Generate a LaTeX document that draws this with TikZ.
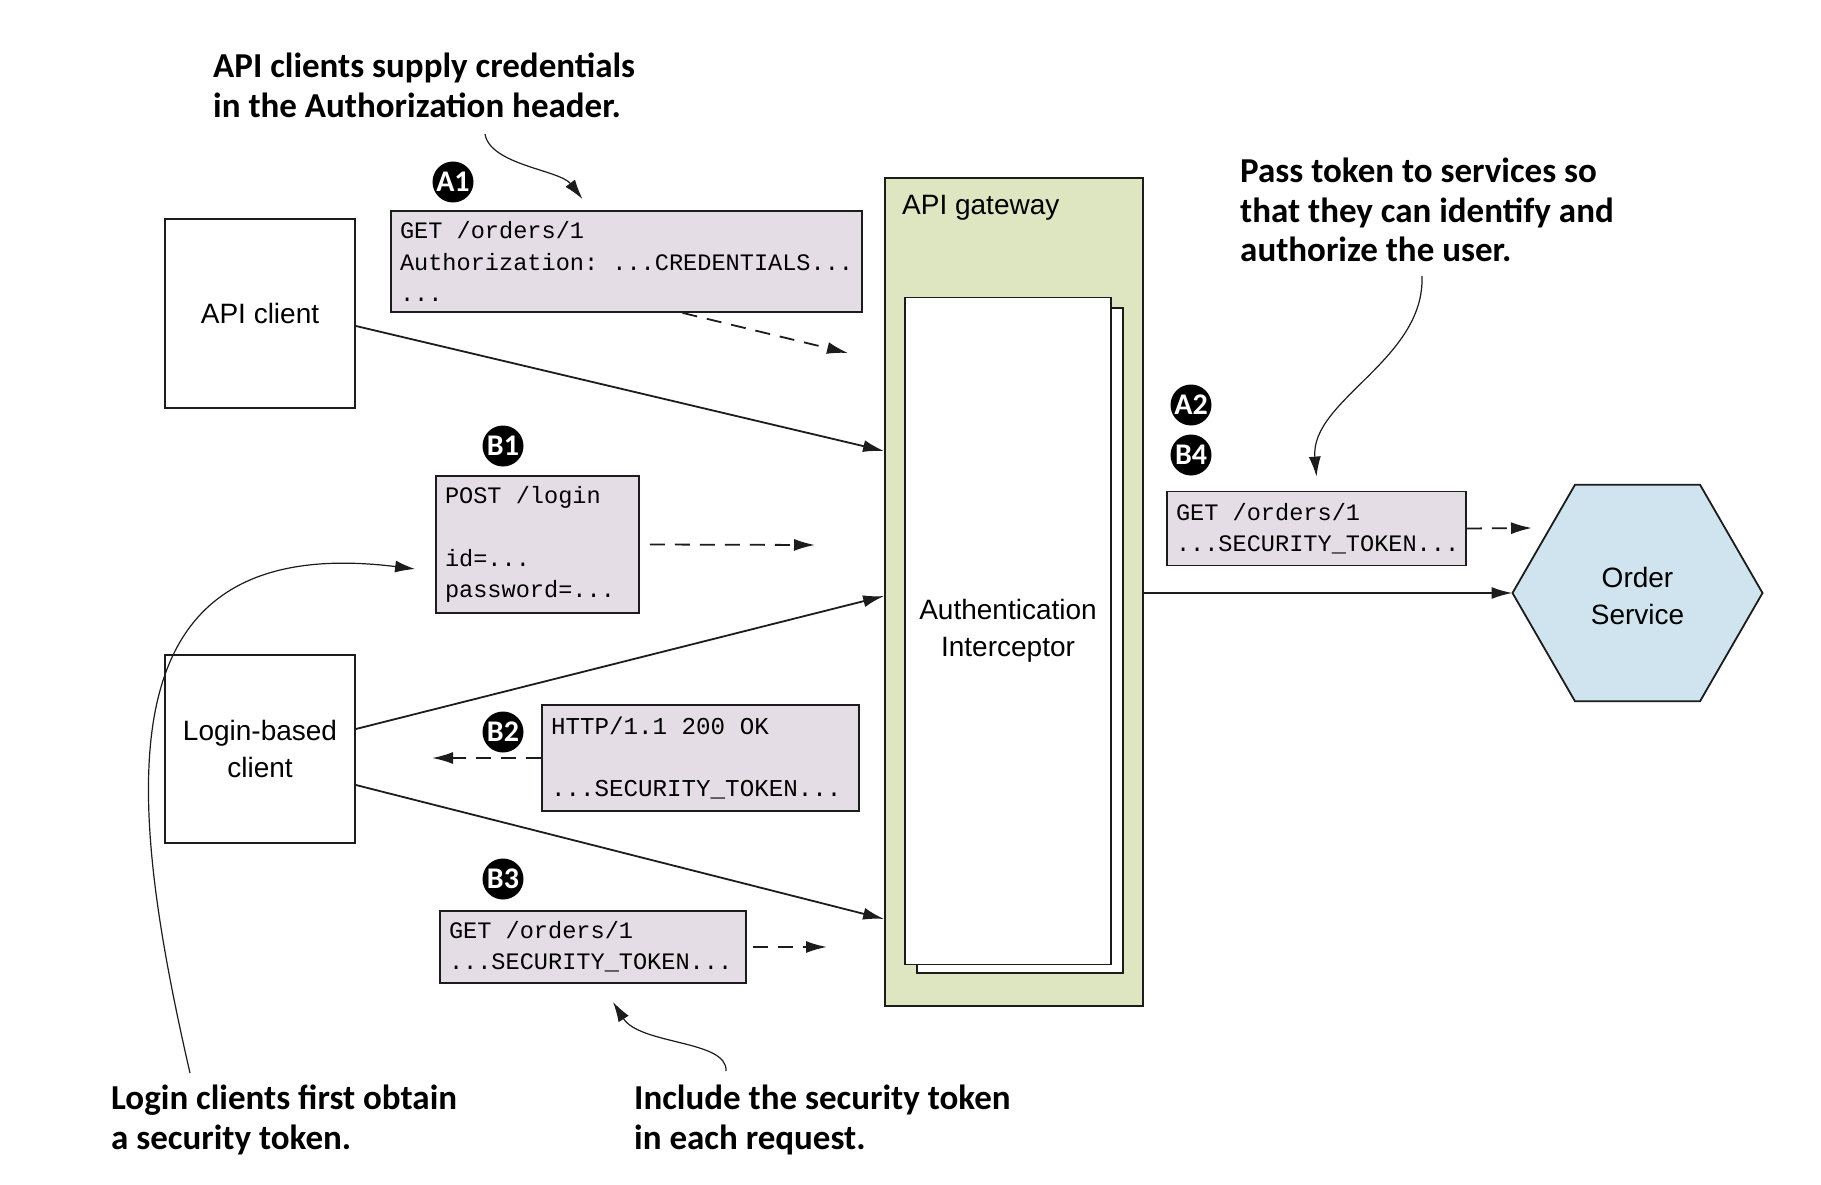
\documentclass[tikz,border=0pt]{standalone}
\usepackage{fontspec}
\setmainfont{Liberation Sans}
\newfontfamily\monofont{Liberation Mono}
\newfontfamily\annfont{Carlito}
\usetikzlibrary{arrows.meta}
\definecolor{msgfill}{RGB}{229,221,229}
\definecolor{gwfill}{RGB}{221,230,192}
\definecolor{svcfill}{RGB}{207,228,238}
\definecolor{ink}{RGB}{28,28,28}
\newcommand\mspc{\hbox to 0.6em{}}
\begin{document}
\begin{tikzpicture}[x=1pt,y=-1pt,
  box/.style={draw=ink, line width=1.8pt, fill=white, inner sep=0pt, align=center,
    font=\fontsize{28}{37}\selectfont},
  msg/.style={draw=ink, line width=1.8pt, fill=msgfill, inner xsep=9pt, inner ysep=0pt,
    align=left, font=\monofont\fontsize{23.6}{31.4}\selectfont},
  badge/.style={circle, fill=black, text=white, inner sep=0pt, minimum size=41pt,
    font=\annfont\bfseries\fontsize{30}{30}\selectfont},
  ann/.style={align=left, inner sep=0pt, anchor=north west,
    font=\annfont\bfseries\fontsize{35}{39.5}\selectfont},
  flow/.style={line width=1.8pt, draw=ink, -{Latex[length=21pt,width=12pt]}},
  dflow/.style={flow, dash pattern=on 15pt off 10pt},
  note/.style={line width=1.2pt, draw=ink, -{Latex[length=20pt,width=12pt]}},
]
\fill[white] (0,0) rectangle (1821,1185);
\useasboundingbox (0,0) rectangle (1821,1185);

% gateway
\node[draw=ink, line width=1.8pt, fill=gwfill, minimum width=258pt, minimum height=828pt, inner sep=0pt] (gw) at (1014,592) {};
\node[anchor=west, inner sep=0pt, font=\fontsize{28}{34}\selectfont] (gwlabel) at (902,208) {API gateway};
\node[draw=ink, line width=1.8pt, fill=white, minimum width=206pt, minimum height=665pt, inner sep=0pt] (icback) at (1020,640.5) {};
\node[box, minimum width=206pt, minimum height=667pt] (ic) at (1008,631) {Authentication\\Interceptor};

% clients
\node[box, minimum width=190pt, minimum height=189pt] (apic) at (260,313.5) {API client};
\node[box, minimum width=190pt, minimum height=188pt] (login) at (260,749) {Login-based\\client};

% messages
\node[msg, text width=453pt, minimum height=101pt] (a1) at (626.5,261.5) {GET\mspc/orders/1\\Authorization:\mspc...CREDENTIALS...\\...};
\node[msg, text width=185pt, minimum height=137pt] (b1) at (537.5,544.5) {POST\mspc/login\\[31.4pt]id=...\\password=...};
\node[msg, text width=299pt, minimum height=106pt, font=\monofont\fontsize{24.2}{31.4}\selectfont] (b2) at (700.5,758) {HTTP/1.1\mspc200\mspc OK\\[31.4pt]...SECURITY\_TOKEN...};
\node[msg, text width=288pt, minimum height=72pt] (b3) at (593,947) {GET\mspc/orders/1\\...SECURITY\_TOKEN...};
\node[msg, text width=281pt, minimum height=74pt] (b4) at (1316.5,528.5) {GET\mspc/orders/1\\...SECURITY\_TOKEN...};

% badges
\node[badge] (bA1) at (453,182) {A1};
\node[badge] (bB1) at (503,446) {B1};
\node[badge] (bB2) at (503,732) {B2};
\node[badge] (bB3) at (503,879) {B3};
\node[badge] (bA2) at (1191,405) {A2};
\node[badge] (bB4) at (1191,455) {B4};

% order service hexagon
\fill[svcfill] (1512.5,593) -- (1575,484.7) -- (1700,484.7) -- (1762.5,593) -- (1700,701.3) -- (1575,701.3) -- cycle;
\draw[ink, line width=1.8pt, line join=miter] (1512.5,593) -- (1575,484.7) -- (1700,484.7) -- (1762.5,593) -- (1700,701.3) -- (1575,701.3) -- cycle;
\coordinate (svcW) at (1512.5,593);
\node[align=center, inner sep=0pt, font=\fontsize{28}{37}\selectfont] (svc) at (1637.5,596) {Order\\Service};

% solid flows
\draw[flow] ([yshift=-12.5pt]apic.east) -- ([yshift=141pt]gw.west);
\draw[flow] ([yshift=20pt]login.east) -- ([yshift=-4pt]gw.west);
\draw[flow] ([yshift=-36pt]login.east) -- ([yshift=-327pt]gw.west);
\draw[flow] ([yshift=-1pt]gw.east) -- (svcW);

% dashed flows
\coordinate (a1end) at (848,353);
\coordinate (b1end) at (815,545);
\coordinate (b2end) at (432,758);
\coordinate (b3end) at (827,947);
\coordinate (b4end) at (1532,528);
\draw[dflow] ([xshift=56pt]a1.south) -- (a1end);
\draw[dflow] ([xshift=10pt]b1.east) -- (b1end);
\draw[dflow] (b2.west) -- (b2end);
\draw[dflow] ([xshift=6pt]b3.east) -- (b3end);
\draw[dflow] (b4.east) -- (b4end);

% annotations
\node[ann] (n1) at (213,53) {API clients supply credentials\\in the Authorization header.};
\node[ann] (n2) at (1240,158) {Pass token to services so\\that they can identify and\\authorize the user.};
\node[ann] (n3) at (111,1085) {Login clients first obtain\\a security token.};
\node[ann] (n4) at (634,1085) {Include the security token\\in each request.};

\coordinate (n1s) at (485,134);
\coordinate (n2s) at (1422,276);
\coordinate (n3s) at (190,1073);
\coordinate (n4s) at (726,1071);
\draw[note] (n1s) .. controls (490,165) and (560,170) .. ([xshift=-44pt,yshift=11pt]a1.north);
\draw[note] (n2s) .. controls (1425,360) and (1310,400) .. ([yshift=14pt]b4.north);
\draw[note] (n3s) .. controls (125,790) and (100,530) .. ([xshift=-20pt,yshift=-24.5pt]b1.west);
\draw[note] (n4s) .. controls (728,1040) and (640,1045) .. ([xshift=20pt,yshift=-18pt]b3.south);
\end{tikzpicture}
\end{document}
